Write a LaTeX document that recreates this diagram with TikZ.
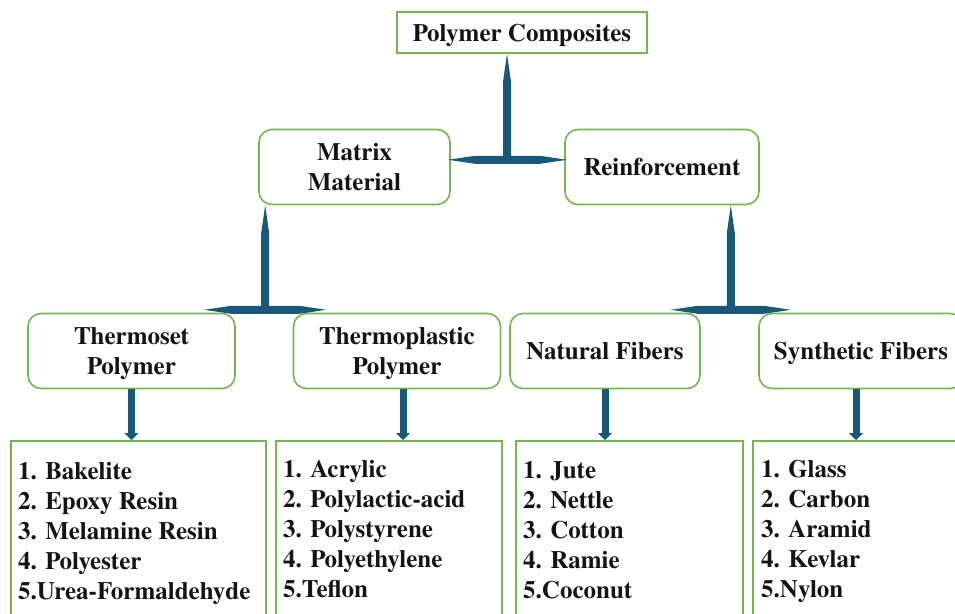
\documentclass[tikz,border=0pt]{standalone}
\usepackage{fontspec}
\setmainfont{TeX Gyre Termes}
\usetikzlibrary{arrows.meta,calc}
\definecolor{boxgreen}{RGB}{116,182,82}
\definecolor{conncol}{RGB}{26,88,122}
% #1 tip point, #2 stem length, #3 left extent, #4 right extent
\newcommand{\tconnector}[4]{%
  \fill[conncol, shift={#1}] (0,0) -- (4,28) -- (4,#2) -- ({#4-27},#2) -- (#4,{#2+4})
    -- ({#4-27},{#2+8}) -- ({-#3+27},{#2+8}) -- (-#3,{#2+4}) -- ({-#3+27},#2)
    -- (-4,#2) -- (-4,28) -- cycle;}
\begin{document}
\begin{tikzpicture}[x=1pt,y=-1pt,
  every node/.style={font=\fontsize{25}{30}\selectfont\bfseries, text=black!92, inner sep=0pt},
  topbox/.style={draw=boxgreen, line width=1.6pt, rectangle, minimum width=250pt, minimum height=41pt, text depth=0pt},
  rbox/.style={draw=boxgreen, line width=1.6pt, rounded corners=13pt, align=center, minimum height=75pt, text depth=0pt},
  lbox/.style={draw=boxgreen, line width=1.6pt, anchor=north west, minimum height=200pt},
  ltext/.style={anchor=north west, align=left},
  arr/.style={draw=conncol, line width=7pt, -{Triangle[width=14pt,length=7pt]}}]
\useasboundingbox (0,0) rectangle (955,613);
\fill[white] (0,0) rectangle (955,613);

\node[topbox] (pc) at (522,32.5) {Polymer Composites};
\node[rbox, minimum width=191pt] (mm) at (354.5,167) {Matrix\\Material};
\node[rbox, minimum width=194pt] (rf) at (662,167) {Reinforcement};
\node[rbox, minimum width=207pt] (ts) at (131.5,351) {Thermoset\\Polymer};
\node[rbox, minimum width=207pt] (tp) at (397,351) {Thermoplastic\\Polymer};
\node[rbox, minimum width=190pt] (nf) at (605,351) {Natural Fibers};
\node[rbox, minimum width=204pt] (sf) at (861,351) {Synthetic Fibers};

\node[lbox, minimum width=255pt] (b1) at (10,440) {};
\node[lbox, minimum width=226pt] (b2) at (275,440) {};
\node[lbox, minimum width=227pt] (b3) at (515,440) {};
\node[lbox, minimum width=215pt] (b4) at (752,440) {};

\node[ltext] (l1) at (18,462) {1. Bakelite\\2. Epoxy Resin\\3. Melamine Resin\\4. Polyester\\5.Urea-Formaldehyde};
\node[ltext] (l2) at (283,460.5) {1. Acrylic\\2. Polylactic-acid\\3. Polystyrene\\4. Polyethylene\\5.Teflon};
\node[ltext] (l3) at (523,461.5) {1. Jute\\2. Nettle\\3. Cotton\\4. Ramie\\5.Coconut};
\node[ltext] (l4) at (761,460.5) {1. Glass\\2. Carbon\\3. Aramid\\4. Kevlar\\5.Nylon};

\tconnector{($(pc.south)+(-15,0)$)}{102}{59}{60}
\tconnector{($(mm.south west)+(7,0)$)}{100.5}{61}{61}
\tconnector{($(rf.south east)+(-29,0)$)}{100.5}{60}{60}

\draw[arr] (ts.south) -- (ts.south |- b1.north);
\coordinate (a2) at ($(tp.south)+(6,0)$);
\draw[arr] (a2) -- (a2 |- b2.north);
\draw[arr] (nf.south) -- (nf.south |- b3.north);
\coordinate (a4) at ($(sf.south)+(-5,0)$);
\draw[arr] (a4) -- (a4 |- b4.north);
\end{tikzpicture}
\end{document}
